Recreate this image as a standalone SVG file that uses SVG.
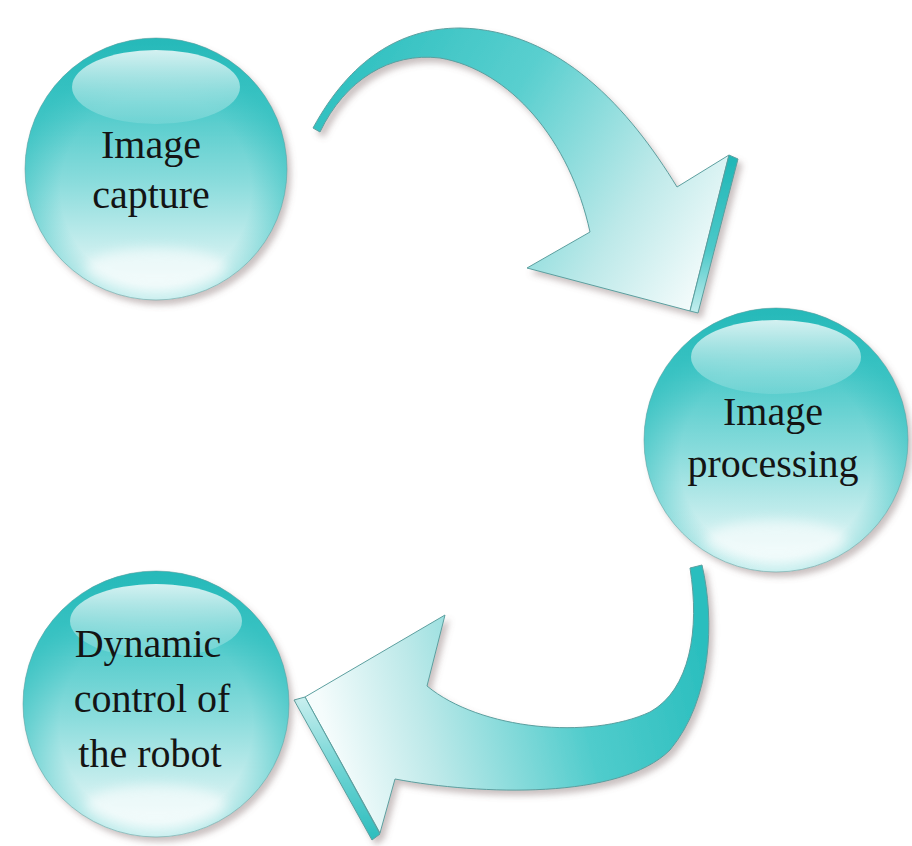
<svg xmlns="http://www.w3.org/2000/svg" width="912" height="846" viewBox="0 0 912 846">
  <defs>
    <style>
      .label { font-family: "Liberation Serif", "Times New Roman", serif; font-size: 40px; fill: #141414; text-anchor: middle; }
      .ball { fill: url(#ballBody); }
      .ball-edge { fill: url(#ballEdge); }
      .ball-rim { fill: none; stroke: #5f9e9e; stroke-width: 1; stroke-opacity: 0.55; }
      .gloss { fill: url(#gloss); }
      .glow { fill: #ffffff; opacity: 0.55; filter: url(#soft); }
      .arrow-face { stroke: #5c9f9f; stroke-width: 1; stroke-linejoin: round; }
    </style>
    <!-- body shading of the spheres -->
    <linearGradient id="ballBody" x1="0" y1="0" x2="0" y2="1">
      <stop offset="0" stop-color="#1fb4b4"/>
      <stop offset="0.22" stop-color="#45c7c7"/>
      <stop offset="0.55" stop-color="#8adcdc"/>
      <stop offset="0.85" stop-color="#d3f1f1"/>
      <stop offset="1" stop-color="#f0fbfb"/>
    </linearGradient>
    <radialGradient id="ballEdge" cx="0.5" cy="0.58" r="0.52">
      <stop offset="0.7" stop-color="#2fbfbf" stop-opacity="0"/>
      <stop offset="1" stop-color="#2bbdbd" stop-opacity="0.55"/>
    </radialGradient>
    <linearGradient id="gloss" x1="0" y1="0" x2="0" y2="1">
      <stop offset="0" stop-color="#ffffff" stop-opacity="0.8"/>
      <stop offset="1" stop-color="#ffffff" stop-opacity="0.12"/>
    </linearGradient>
    <!-- arrow surfaces -->
    <linearGradient id="arrowTopFace" gradientUnits="userSpaceOnUse" x1="330" y1="60" x2="705" y2="295">
      <stop offset="0" stop-color="#2cbfbf"/>
      <stop offset="0.4" stop-color="#5acfcf"/>
      <stop offset="0.75" stop-color="#bde9e9"/>
      <stop offset="1" stop-color="#f6fcfc"/>
    </linearGradient>
    <linearGradient id="arrowTopSide" x1="0" y1="0" x2="0" y2="1">
      <stop offset="0" stop-color="#1fb6b6"/>
      <stop offset="0.6" stop-color="#4cc9c9"/>
      <stop offset="1" stop-color="#c4eeee"/>
    </linearGradient>
    <linearGradient id="arrowBottomFace" gradientUnits="userSpaceOnUse" x1="705" y1="650" x2="330" y2="745">
      <stop offset="0" stop-color="#2abebe"/>
      <stop offset="0.35" stop-color="#50cccc"/>
      <stop offset="0.75" stop-color="#bde9e9"/>
      <stop offset="1" stop-color="#f5fcfc"/>
    </linearGradient>
    <linearGradient id="arrowBottomSide" x1="0" y1="0" x2="0" y2="1">
      <stop offset="0" stop-color="#c9efef"/>
      <stop offset="0.5" stop-color="#6fd4d4"/>
      <stop offset="1" stop-color="#2cbdbd"/>
    </linearGradient>
    <filter id="shadow" x="-10%" y="-10%" width="125%" height="125%">
      <feDropShadow dx="4" dy="5" stdDeviation="3" flood-color="#7a6464" flood-opacity="0.4"/>
    </filter>
    <filter id="soft" x="-30%" y="-60%" width="160%" height="220%">
      <feGaussianBlur stdDeviation="6"/>
    </filter>
  </defs>

  <rect width="912" height="846" fill="#ffffff"/>

  <!-- curved connectors -->
  <g id="connectors">
    <g id="arrow-capture-to-processing" filter="url(#shadow)">
      <path class="arrow-face" fill="url(#arrowTopFace)"
            d="M 313,128 C 350,60 400,28 460,28 C 560,30 630,110 677,187 L 729,155 L 690,311 L 527,268 L 590,232 C 570,140 510,70 440,58 C 390,52 345,80 320,132 Z"/>
      <polygon class="arrow-face" fill="url(#arrowTopSide)" points="729,155 738,159 698,313 690,311"/>
    </g>
    <g id="arrow-processing-to-control" filter="url(#shadow)">
      <path class="arrow-face" fill="url(#arrowBottomFace)"
            d="M 690,568 L 702,565 C 715,620 712,700 670,750 C 620,800 480,795 395,779 L 380,833 L 305,697 L 445,615 L 427,686 C 480,730 590,740 650,712 C 690,690 700,630 690,568 Z"/>
      <polygon class="arrow-face" fill="url(#arrowBottomSide)" points="305,697 294,700 372,840 380,834"/>
    </g>
  </g>

  <!-- node: Image capture -->
  <g id="node-image-capture">
    <g filter="url(#shadow)">
      <circle class="ball" cx="156" cy="169" r="131"/>
    </g>
    <circle class="ball-edge" cx="156" cy="169" r="131"/>
    <ellipse class="gloss" cx="156" cy="87" rx="84" ry="37"/>
    <ellipse class="glow" cx="156" cy="268" rx="70" ry="20"/>
    <circle class="ball-rim" cx="156" cy="169" r="131"/>
    <text class="label" x="151" y="158">Image</text>
    <text class="label" x="151" y="208">capture</text>
  </g>

  <!-- node: Image processing -->
  <g id="node-image-processing">
    <g filter="url(#shadow)">
      <circle class="ball" cx="776" cy="440" r="132"/>
    </g>
    <circle class="ball-edge" cx="776" cy="440" r="132"/>
    <ellipse class="gloss" cx="776" cy="357" rx="85" ry="37"/>
    <ellipse class="glow" cx="776" cy="540" rx="70" ry="20"/>
    <circle class="ball-rim" cx="776" cy="440" r="132"/>
    <text class="label" x="773" y="425">Image</text>
    <text class="label" x="773" y="477">processing</text>
  </g>

  <!-- node: Dynamic control of the robot -->
  <g id="node-dynamic-control">
    <g filter="url(#shadow)">
      <circle class="ball" cx="156" cy="704" r="133"/>
    </g>
    <circle class="ball-edge" cx="156" cy="704" r="133"/>
    <ellipse class="gloss" cx="156" cy="621" rx="86" ry="37"/>
    <ellipse class="glow" cx="156" cy="805" rx="70" ry="20"/>
    <circle class="ball-rim" cx="156" cy="704" r="133"/>
    <text class="label" x="148" y="657">Dynamic</text>
    <text class="label" x="152" y="712">control of</text>
    <text class="label" x="150" y="767">the robot</text>
  </g>
</svg>
